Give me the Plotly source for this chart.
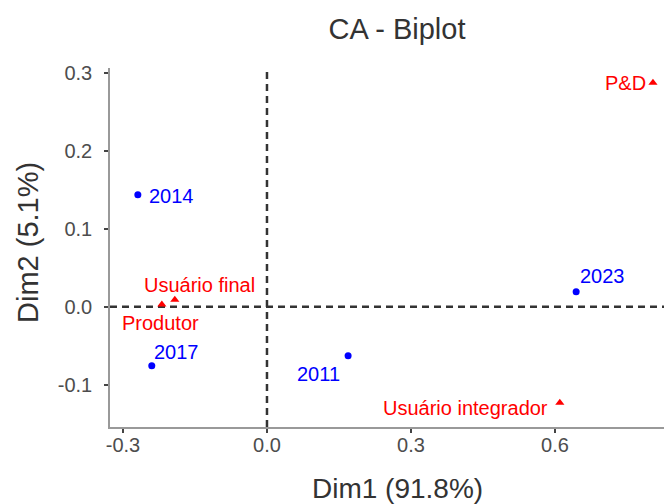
import plotly.graph_objects as go

row_names = ["2014", "2023", "2017", "2011"]
row_x = [-0.269, 0.644, -0.240, 0.169]
row_y = [0.1436, 0.0192, -0.0756, -0.0628]

col_names = ["P&D", "Usuário final", "Produtor", "Usuário integrador"]
col_x = [0.804, -0.192, -0.219, 0.610]
col_y = [0.287, 0.009, 0.003, -0.123]

x_ticks = [-0.3, 0.0, 0.3, 0.6]
y_ticks = [-0.1, 0.0, 0.1, 0.2, 0.3]

# label offsets (pixels): xanchor, xshift, yshift
row_lab = [("left", 9, -1), ("left", 2, 16), ("left", 0, 14), ("right", -6, -18)]
col_lab = [("right", -5, 0), ("left", -33, 15), ("left", -42, -19), ("right", -10, -5)]

FONT = "Liberation Sans, Arial, sans-serif"
LAB_SIZE = 20
W, H = 664, 504

fig = go.Figure()
fig.add_hline(y=0, line=dict(color="#333333", width=2.5, dash="7px,5px"), layer="below")
fig.add_vline(x=0, line=dict(color="#333333", width=2.5, dash="7px,5px"), layer="below")

fig.add_trace(go.Scatter(x=row_x, y=row_y, mode="markers",
                         marker=dict(color="blue", size=7, symbol="circle"),
                         showlegend=False, hoverinfo="text", text=row_names))
fig.add_trace(go.Scatter(x=col_x, y=col_y, mode="markers",
                         marker=dict(color="red", size=8, symbol="triangle-up"),
                         showlegend=False, hoverinfo="text", text=col_names))

for n, x, y, (xa, xs, ys) in zip(row_names, row_x, row_y, row_lab):
    fig.add_annotation(x=x, y=y, text=n, showarrow=False, xanchor=xa, yanchor="middle",
                       xshift=xs, yshift=ys, font=dict(color="blue", size=LAB_SIZE, family=FONT))
for n, x, y, (xa, xs, ys) in zip(col_names, col_x, col_y, col_lab):
    fig.add_annotation(x=x, y=y, text=n, showarrow=False, xanchor=xa, yanchor="middle",
                       xshift=xs, yshift=ys, font=dict(color="red", size=LAB_SIZE, family=FONT))

# axis titles (positioned in paper coordinates)
fig.add_annotation(xref="paper", yref="paper", x=(397 - 110) / (W - 110), y=-(488 - 427) / (427 - 68),
                   text="Dim1 (91.8%)", showarrow=False, xanchor="center", yanchor="middle",
                   font=dict(size=28, color="#333333", family=FONT))
fig.add_annotation(xref="paper", yref="paper", x=-(110 - 28) / (W - 110), y=(427 - 243) / (427 - 68),
                   text="Dim2 (5.1%)", showarrow=False, xanchor="center", yanchor="middle",
                   textangle=-90, font=dict(size=29, color="#333333", family=FONT))

fig.update_layout(
    width=W, height=H,
    margin=dict(l=110, r=0, t=68, b=77, autoexpand=False),
    paper_bgcolor="white", plot_bgcolor="white",
    font=dict(family=FONT, color="#333333"),
    title=dict(text="CA - Biplot", x=397 / W, xanchor="center", y=1 - 29 / H, yanchor="middle",
               font=dict(size=29, color="#333333", family=FONT), automargin=False),
    xaxis=dict(range=[-0.327, 0.827], tickvals=x_ticks, ticktext=[f"{v:.1f}" for v in x_ticks],
               showgrid=False, zeroline=False, showline=True, linecolor="#999999", linewidth=1.5,
               ticks="outside", ticklen=4, tickwidth=1.5, tickcolor="#444444",
               tickfont=dict(size=20, color="#4d4d4d"), automargin=False, ticklabelstandoff=-5),
    yaxis=dict(range=[-0.154, 0.306], tickvals=y_ticks, ticktext=[f"{v:.1f}" for v in y_ticks],
               showgrid=False, zeroline=False, showline=True, linecolor="#999999", linewidth=1.5,
               ticks="outside", ticklen=4, tickwidth=1.5, tickcolor="#444444",
               tickfont=dict(size=20, color="#4d4d4d"), automargin=False, ticklabelstandoff=8),
)

fig.write_html("out.html", config={"displayModeBar": False},
               post_script="document.body.style.margin='0';")
